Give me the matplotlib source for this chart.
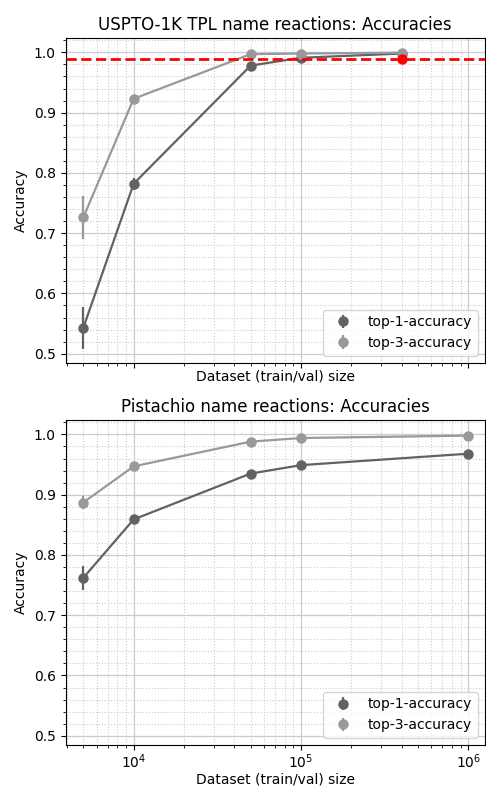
import matplotlib
matplotlib.use("Agg")
import matplotlib.pyplot as plt
from matplotlib.ticker import MultipleLocator

# --- data ---
uspto_sizes = [5000, 10000, 50000, 100000, 400000]
uspto_top1 = [0.543, 0.782, 0.978, 0.991, 0.998]
uspto_top1_err = [0.035, 0.010, 0.004, 0.003, 0.002]
uspto_top3 = [0.726, 0.923, 0.997, 0.998, 0.9995]
uspto_top3_err = [0.035, 0.005, 0.002, 0.002, 0.001]
uspto_ref_x = 400000
uspto_ref_acc = 0.989

pist_sizes = [5000, 10000, 50000, 100000, 1000000]
pist_top1 = [0.762, 0.859, 0.935, 0.949, 0.968]
pist_top1_err = [0.020, 0.005, 0.003, 0.003, 0.002]
pist_top3 = [0.887, 0.947, 0.988, 0.994, 0.998]
pist_top3_err = [0.010, 0.004, 0.002, 0.002, 0.001]

dark = "#626262"
light = "#999999"


def draw_panel(ax, sizes, top1, top1_err, top3, top3_err, title):
    # connecting lines drawn separately so legend shows marker + errorbar only
    ax.plot(sizes, top1, "-", color=dark, linewidth=1.6, zorder=3)
    ax.plot(sizes, top3, "-", color=light, linewidth=1.6, zorder=3)
    ax.errorbar(sizes, top1, yerr=top1_err, fmt="o", color=dark,
                markersize=6.5, elinewidth=1.6, label="top-1-accuracy", zorder=3)
    ax.errorbar(sizes, top3, yerr=top3_err, fmt="o", color=light,
                markersize=6.5, elinewidth=1.6, label="top-3-accuracy", zorder=3)
    ax.set_xscale("log")
    ax.set_xlim(3920, 1.25e6)
    ax.set_ylim(0.485, 1.024)
    ax.yaxis.set_major_locator(MultipleLocator(0.1))
    ax.yaxis.set_minor_locator(MultipleLocator(0.02))
    ax.grid(which="major", color="#cccccc", linestyle="-", linewidth=0.9)
    ax.grid(which="minor", color="#cccccc", linestyle=":", linewidth=0.8)
    ax.set_axisbelow(True)
    ax.set_title(title, fontsize=12)
    ax.set_ylabel("Accuracy", fontsize=10)
    ax.set_xlabel("Dataset (train/val) size", fontsize=10, labelpad=1)
    ax.legend(loc="lower right", fontsize=10)


fig, (ax1, ax2) = plt.subplots(2, 1, figsize=(4.86, 7.89), dpi=100)
fig.subplots_adjust(left=0.135, right=0.997, top=0.952, bottom=0.056,
                    hspace=0.176)

draw_panel(ax1, uspto_sizes, uspto_top1, uspto_top1_err, uspto_top3,
           uspto_top3_err, "USPTO-1K TPL name reactions: Accuracies")
ax1.axhline(uspto_ref_acc, color="red", linestyle="--", linewidth=2, zorder=4)
ax1.plot([uspto_ref_x], [uspto_ref_acc], "o", color="red", markersize=6.5, zorder=5)
ax1.tick_params(axis="x", which="both", labelbottom=False)

draw_panel(ax2, pist_sizes, pist_top1, pist_top1_err, pist_top3,
           pist_top3_err, "Pistachio name reactions: Accuracies")
ax2.tick_params(axis="x", which="major", pad=2)

fig.savefig("out.png", dpi=100)
